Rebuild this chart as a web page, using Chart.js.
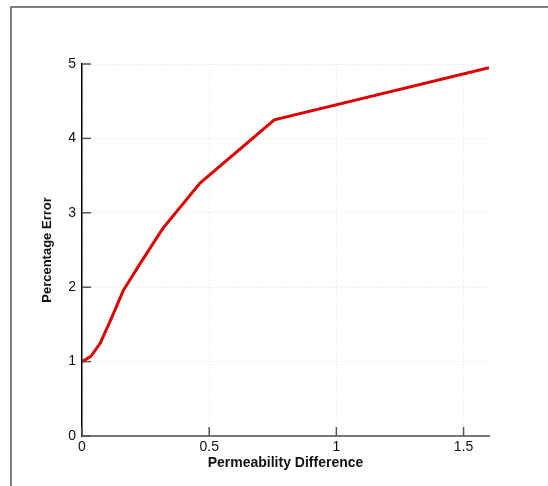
<!DOCTYPE html>
<html>
<head>
<meta charset="utf-8">
<script src="https://cdn.jsdelivr.net/npm/chart.js@4/dist/chart.umd.min.js"></script>
<style>
  html, body { margin: 0; padding: 0; background: #fff; }
  #wrap { position: relative; width: 548px; height: 486px; }
  #frame { position: absolute; left: 10px; top: 6px; right: 0; bottom: 0; border-top: 2px solid #808080; border-left: 2px solid #808080; pointer-events: none; }
  canvas { position: absolute; left: 0; top: 0; }
</style>
</head>
<body>
<div id="wrap">
  <div id="frame"></div>
  <canvas id="chart" width="548" height="486"></canvas>
</div>
<script>
// ค่าที่อ่านจากภาพ
const permDiff = [0, 0.035, 0.072, 0.118, 0.163, 0.196, 0.229, 0.318, 0.464, 0.756, 1.6];
const pctError = [1.0, 1.07, 1.25, 1.6, 1.96, 2.14, 2.32, 2.79, 3.40, 4.25, 4.95];

const xMax = 1.6, xStep = 0.5;
const yMax = 5, yStep = 1;
const xTitle = 'Permeability Difference';
const yTitle = 'Percentage Error';

const font = "'Liberation Sans', Arial, Helvetica, sans-serif";

// tick สั้นๆ ชี้เข้าด้านในกราฟ
const innerTicks = {
    id: 'innerTicks',
    afterDatasetsDraw(chart) {
        const ctx = chart.ctx, xs = chart.scales.x, ys = chart.scales.y;
        ctx.save();
        ctx.strokeStyle = '#555';
        ctx.lineWidth = 1.5;
        ys.ticks.forEach(t => {
            let py = ys.getPixelForValue(t.value);
            ctx.beginPath(); ctx.moveTo(xs.left, py); ctx.lineTo(xs.left + 9, py); ctx.stroke();
        });
        xs.ticks.forEach(t => {
            let px = xs.getPixelForValue(t.value);
            ctx.beginPath(); ctx.moveTo(px, ys.bottom); ctx.lineTo(px, ys.bottom - 9); ctx.stroke();
        });
        ctx.restore();
    }
};

new Chart(document.getElementById('chart'), {
    type: 'scatter',
    data: {
        datasets: [{
            data: permDiff.map((x, i) => ({ x: x, y: pctError[i] })),
            showLine: true,
            borderColor: '#dd0000',
            backgroundColor: '#dd0000',
            borderWidth: 3,
            pointRadius: 0,
            tension: 0
        }]
    },
    options: {
        responsive: false,
        animation: false,
        layout: { padding: { left: 36, top: 64, right: 59, bottom: 10 } },
        plugins: { legend: { display: false }, tooltip: { enabled: false } },
        scales: {
            x: {
                type: 'linear', min: 0, max: xMax,
                afterFit: s => { s.height = 40; },
                ticks: { stepSize: xStep, includeBounds: false, padding: 3, color: '#111', font: { family: font, size: 14 }, callback: v => String(v) },
                grid: { color: '#e6e6e6', drawTicks: false },
                border: { color: '#777', width: 2, dash: [1, 2] },
                title: { display: true, text: xTitle, color: '#111', font: { family: font, size: 14, weight: 'bold' }, padding: { top: 0, bottom: 4 } }
            },
            y: {
                type: 'linear', min: 0, max: yMax,
                afterFit: s => { s.width = 46; },
                ticks: { stepSize: yStep, padding: 6, color: '#111', font: { family: font, size: 14 } },
                grid: { color: '#e6e6e6', drawTicks: false },
                border: { color: '#000', width: 1.5, dash: [1, 2] },
                title: { display: true, text: yTitle, color: '#111', font: { family: font, size: 13, weight: 'bold' }, padding: { top: 4, bottom: 0 } }
            }
        }
    },
    plugins: [innerTicks]
});
</script>
</body>
</html>
